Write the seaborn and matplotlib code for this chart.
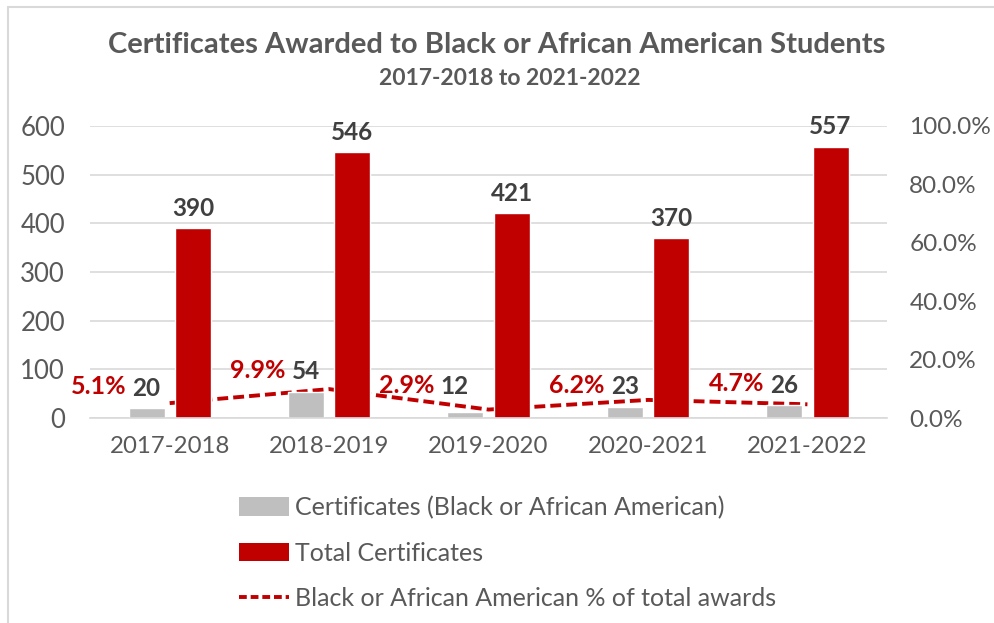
import pandas as pd
import numpy as np
import seaborn as sns
import matplotlib.pyplot as plt
from matplotlib.patches import Patch
from matplotlib.lines import Line2D

# data
years = ["2017-2018", "2018-2019", "2019-2020", "2020-2021", "2021-2022"]
black_certs = [20, 54, 12, 23, 26]
total_certs = [390, 546, 421, 370, 557]
pct_black = [5.1, 9.9, 2.9, 6.2, 4.7]

SERIES = ["Certificates (Black or African American)", "Total Certificates"]
LINE_LABEL = "Black or African American % of total awards"

RED = "#C00000"
GRAY = "#BFBFBF"
TXT = "#595959"
VAL = "#404040"

# the 2019-2020 small labels were nudged by hand in the original (points)
LABEL_NUDGE = {"2019-2020": (-8, 4)}

sns.set_theme(style="white")
plt.rcParams["font.family"] = ["Lato", "DejaVu Sans"]

df = pd.DataFrame({
    "year": years * 2,
    "series": [SERIES[0]] * len(years) + [SERIES[1]] * len(years),
    "value": black_certs + total_certs,
})

fig = plt.figure(figsize=(9.94, 6.23), dpi=100)
ax = fig.add_axes([0.0905, 0.329, 0.802, 0.469])

sns.barplot(
    data=df, x="year", y="value", hue="series", hue_order=SERIES,
    palette={SERIES[0]: GRAY, SERIES[1]: RED},
    width=0.58, gap=0.22, ax=ax, legend=False, saturation=1,
)

ax.set_ylim(0, 600)
ax.set_yticks(range(0, 601, 100))
ax.set_xlim(-0.5, len(years) - 0.5)
ax.yaxis.grid(True, color="#D9D9D9", linewidth=1.2)
ax.set_axisbelow(True)
for s in ax.spines.values():
    s.set_visible(False)
ax.spines["bottom"].set_visible(True)
ax.spines["bottom"].set_color("#D9D9D9")
ax.spines["bottom"].set_linewidth(1.2)
ax.set_xlabel("")
ax.set_ylabel("")
ax.tick_params(axis="both", length=0, labelcolor=TXT)
ax.tick_params(axis="x", labelsize=17.3, pad=13)
ax.tick_params(axis="y", labelsize=18.5, pad=18)

# % line on a second axis, drawn underneath the bars
ax2 = ax.twinx()
sns.lineplot(x=years, y=pct_black, ax=ax2, color=RED, linewidth=2.8,
             sort=False)
ax2.lines[0].set_dashes((2.8, 1.3))
ax2.set_ylim(0, 100)
ax2.set_yticks(range(0, 101, 20))
ax2.set_yticklabels([f"{v:.1f}%" for v in range(0, 101, 20)])
for s in ax2.spines.values():
    s.set_visible(False)
ax2.tick_params(axis="y", length=0, labelsize=17.6, labelcolor=TXT, pad=16)
ax2.set_ylabel("")
ax.set_zorder(ax2.get_zorder() + 1)
ax.patch.set_visible(False)

# value labels on bars
gray_bars, red_bars = ax.containers[0], ax.containers[1]
for rect in red_bars:
    h = rect.get_height()
    ax.annotate(f"{h:.0f}", (rect.get_x() + rect.get_width() / 2, h),
                xytext=(0, 6), textcoords="offset points",
                ha="center", va="bottom", fontsize=17.5,
                fontweight="bold", color=VAL)

for yr, rect, p in zip(years, gray_bars, pct_black):
    h = rect.get_height()
    cx = rect.get_x() + rect.get_width() / 2
    dx, dy = LABEL_NUDGE.get(yr, (0, 0))
    ax.annotate(f"{h:.0f}", (cx, h), xytext=(dx, 6 + dy),
                textcoords="offset points", ha="center", va="bottom",
                fontsize=17.5, fontweight="bold", color=VAL)
    # the % label sits just left of the gray bar's count
    ax.annotate(f"{p:.1f}%", (cx, h), xytext=(-14.5 + dx, 15.5 + dy),
                textcoords="offset points", ha="right", va="center",
                fontsize=18, fontweight="bold", color=RED)

fig.text(0.5, 0.928, "Certificates Awarded to Black or African American Students",
         ha="center", va="center", fontsize=21, fontweight="bold", color=TXT)
fig.text(0.513, 0.874, "2017-2018 to 2021-2022",
         ha="center", va="center", fontsize=16.5, fontweight="bold", color=TXT)

handles = [
    Patch(facecolor=GRAY, edgecolor="none"),
    Patch(facecolor=RED, edgecolor="none"),
    Line2D([0], [0], color=RED, linewidth=2.8, dashes=(2.0, 1.0)),
]
fig.legend(handles, SERIES + [LINE_LABEL], loc="upper left",
           bbox_to_anchor=(0.228, 0.224), frameon=False, fontsize=18,
           labelcolor=TXT, handlelength=2.0, handleheight=0.75,
           handletextpad=0.25, labelspacing=0.9, borderpad=0)

# frame edges visible in the reference: top and left only
fig.add_artist(Line2D([0.008, 1.0], [0.989, 0.989], transform=fig.transFigure,
                      color="#D9D9D9", linewidth=1.5))
fig.add_artist(Line2D([0.008, 0.008], [0.0, 0.989], transform=fig.transFigure,
                      color="#D9D9D9", linewidth=1.5))

fig.savefig("out.png", dpi=100)
